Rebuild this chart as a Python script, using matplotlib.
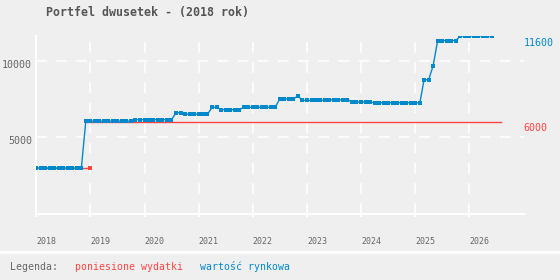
import numpy as np
import pandas as pd
import matplotlib
matplotlib.use('Agg')
import matplotlib.pyplot as plt
import matplotlib.dates as mdates
from matplotlib.lines import Line2D
from matplotlib.transforms import ScaledTranslation

# wartosc rynkowa - one value per month, from 2018-01
market_value = [
    3000, 3000, 3000, 3000, 3000, 3000, 3000, 3000, 3000, 3000, 3000, 6050,   # 2018
    6050, 6050, 6050, 6050, 6050, 6050, 6050, 6050, 6050, 6050, 6150, 6150,   # 2019
    6150, 6150, 6150, 6150, 6150, 6150, 6150, 6600, 6600, 6500, 6500, 6500,   # 2020
    6500, 6500, 6500, 6950, 6950, 6800, 6800, 6800, 6800, 6800, 6950, 6950,   # 2021
    6950, 6950, 6950, 6950, 6950, 6950, 7500, 7500, 7500, 7500, 7700, 7400,   # 2022
    7400, 7400, 7400, 7400, 7400, 7450, 7450, 7450, 7450, 7450, 7300, 7300,   # 2023
    7300, 7300, 7300, 7250, 7250, 7250, 7250, 7250, 7250, 7250, 7250, 7250,   # 2024
    7250, 7250, 8750, 8750, 9650, 11300, 11300, 11300, 11300, 11300, 11600, 11600,  # 2025
    11600, 11600, 11600, 11600, 11600, 11600,                                 # 2026
]
# poniesione wydatki
spent_first = ['2018-01', '2018-02', '2018-03', '2018-04', '2018-05', '2018-06', '2018-07',
               '2018-08', '2018-09', '2018-10', '2018-11', '2019-01']
spent_first_values = [3000, 3000, 3000, 3000, 3000, 3000, 3000, 3000, 3000, 3000, 3000, 3000]
spent_later = ['2018-12', '2026-08']
spent_later_values = [6000, 6000]

years = ['2018', '2019', '2020', '2021', '2022', '2023', '2024', '2025', '2026']
y_ticks = [5000, 10000]

BLUE = '#0088cc'
RED = '#ff4444'
GREY = '#666666'
BG = '#efefef'
MONO = 'DejaVu Sans Mono'

months = pd.date_range('2018-01-01', periods=len(market_value), freq='MS')

fig = plt.figure(figsize=(5.6, 2.8), dpi=100, facecolor=BG)
ax = fig.add_axes([36.3 / 560, 1 - 214 / 280, (523.5 - 36.3) / 560, (214 - 36) / 280])
ax.set_facecolor(BG)

ax.plot(pd.to_datetime(spent_first), spent_first_values, color=RED, lw=1.0,
        marker='s', markersize=2.3, markeredgewidth=0, zorder=3)
ax.plot(pd.to_datetime(spent_later), spent_later_values, color=RED, lw=1.0, zorder=3)
ax.plot(months, market_value, color=BLUE, lw=1.0, marker='s', markersize=2.3,
        markeredgewidth=0, zorder=4)

ax.set_xlim(pd.Timestamp('2018-01-01'), pd.Timestamp('2027-01-01'))
ax.set_ylim(0, 11600)

for s in ['top', 'right']:
    ax.spines[s].set_visible(False)
for s in ['left', 'bottom']:
    ax.spines[s].set_color('white')
    ax.spines[s].set_linewidth(1.5)

ax.set_xticks(pd.to_datetime(years))
ax.xaxis.set_major_formatter(mdates.DateFormatter('%Y'))
ax.set_yticks(y_ticks)
ax.set_yticklabels([str(v) for v in y_ticks])

ax.tick_params(axis='x', colors='white', length=2.5, width=1.5, pad=14,
               labelcolor=GREY, labelsize=6)
ax.tick_params(axis='y', length=0, pad=3, labelcolor=GREY, labelsize=7.2)
for lab in ax.get_xticklabels():
    lab.set_horizontalalignment('left')
    lab.set_fontfamily(MONO)
for lab in ax.get_yticklabels():
    lab.set_fontfamily(MONO)
    lab.set_transform(lab.get_transform() + ScaledTranslation(0, -3 / 100, fig.dpi_scale_trans))

ax.set_axisbelow(True)
ax.grid(True, color='white', lw=1.1, linestyle=(0, (7.0, 6.2)))

# labels on the right
ax.annotate(f'{market_value[-1]}', xy=(1.0, market_value[-1]),
            xycoords=ax.get_yaxis_transform(), xytext=(0, -5), textcoords='offset points',
            ha='left', va='center', color=BLUE, fontsize=7.2, family=MONO)
ax.annotate(f'{spent_later_values[-1]}', xy=(1.0, spent_later_values[-1]),
            xycoords=ax.get_yaxis_transform(), xytext=(0, -4.5), textcoords='offset points',
            ha='left', va='center', color=RED, fontsize=7.2, family=MONO)

fig.text(45.7 / 560, 1 - 12.5 / 280, 'Portfel dwusetek - (2018 rok)', ha='left', va='center',
         fontsize=8.4, fontweight='bold', color='#555555', family=MONO)

# legend row
fig.add_artist(Line2D([0, 1], [1 - 251.7 / 280] * 2, transform=fig.transFigure,
                      color='white', lw=2.4))
fig.text(10 / 560, 13 / 280, 'Legenda:', ha='left', va='center', fontsize=7.1, color=GREY, family=MONO)
fig.text(75 / 560, 13 / 280, 'poniesione wydatki', ha='left', va='center', fontsize=7.1, color=RED, family=MONO)
fig.text(200 / 560, 13 / 280, 'wartość rynkowa', ha='left', va='center', fontsize=7.1, color=BLUE, family=MONO)

fig.savefig('out.png', dpi=100, facecolor=BG)
